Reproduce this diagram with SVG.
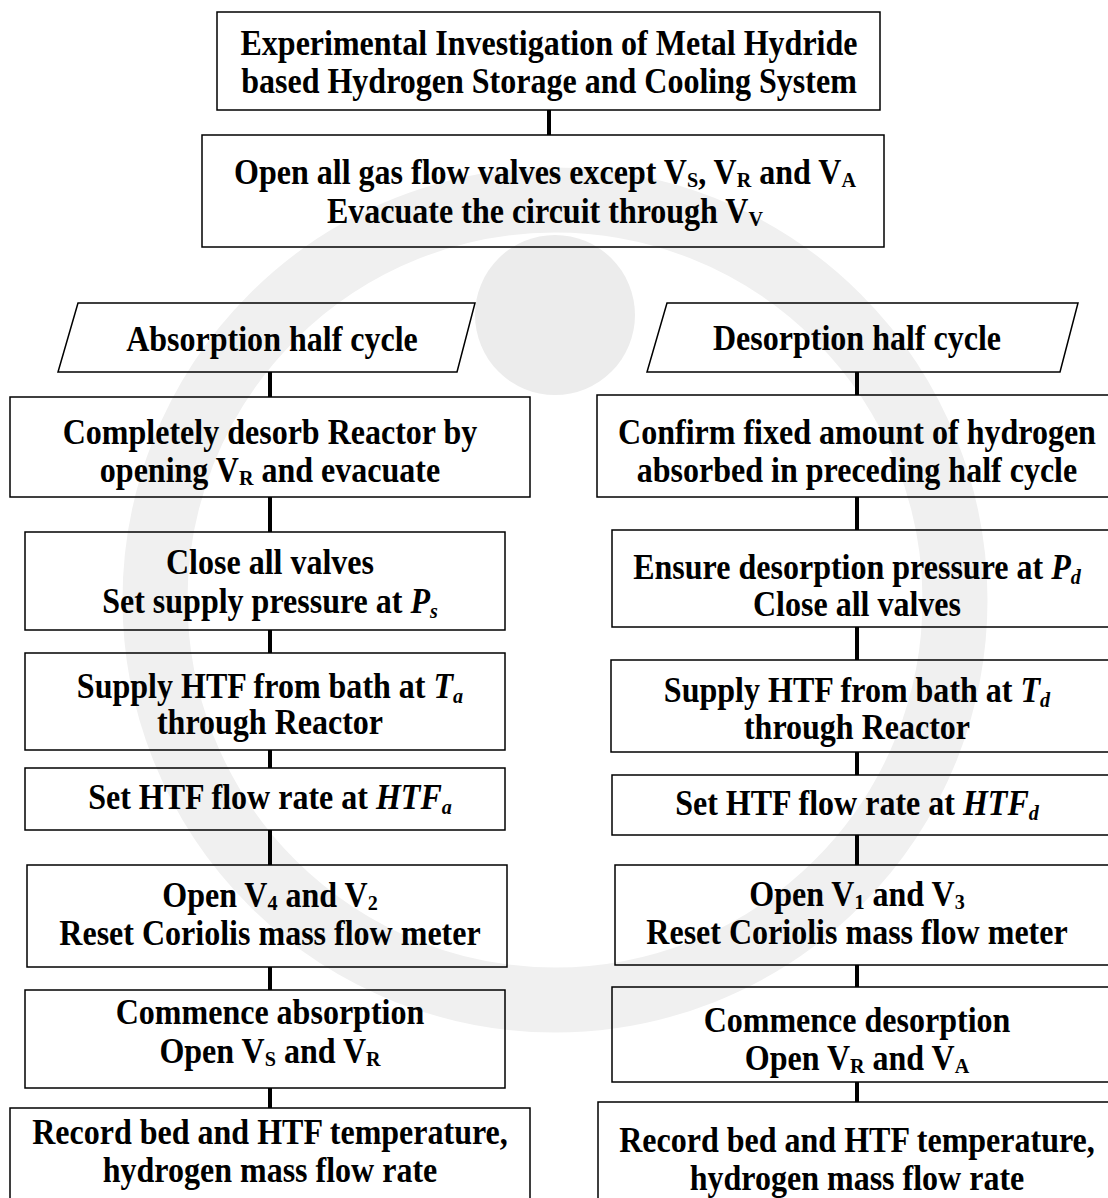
<svg xmlns="http://www.w3.org/2000/svg" width="1108" height="1198" viewBox="0 0 1108 1198">
<style>
.bx{fill:none;stroke:#000;stroke-width:1.5}
.t{font-family:"Liberation Serif","Times New Roman",serif;font-weight:bold;font-size:35px;fill:#000;text-anchor:middle}
.i{font-style:italic}
.s{font-size:22px}
.c{stroke:#000;stroke-width:4;fill:none}
.wm{fill:none;stroke:#f0f0f0}
</style>
<rect width="1108" height="1198" fill="#fff"/>
<g id="watermark">
<circle class="wm" cx="555" cy="600" r="400" stroke-width="65"/>
<circle cx="555" cy="315" r="80" fill="#ececec"/>
</g>
<g id="connectors">
<line class="c" x1="549" y1="110" x2="549" y2="135"/>
<line class="c" x1="270" y1="372" x2="270" y2="397"/>
<line class="c" x1="270" y1="497" x2="270" y2="532"/>
<line class="c" x1="270" y1="630" x2="270" y2="653"/>
<line class="c" x1="270" y1="750" x2="270" y2="768"/>
<line class="c" x1="270" y1="830" x2="270" y2="865"/>
<line class="c" x1="270" y1="967" x2="270" y2="990"/>
<line class="c" x1="270" y1="1088" x2="270" y2="1108"/>
<line class="c" x1="857" y1="372" x2="857" y2="395"/>
<line class="c" x1="857" y1="497" x2="857" y2="530"/>
<line class="c" x1="857" y1="627" x2="857" y2="660"/>
<line class="c" x1="857" y1="752" x2="857" y2="775"/>
<line class="c" x1="857" y1="835" x2="857" y2="865"/>
<line class="c" x1="857" y1="965" x2="857" y2="987"/>
<line class="c" x1="857" y1="1082" x2="857" y2="1102"/>
</g>
<g id="n-title">
<rect class="bx" x="217" y="12" width="663" height="98"/>
<text class="t" transform="translate(549 55) scale(0.915 1)">Experimental Investigation of Metal Hydride</text>
<text class="t" transform="translate(549 93) scale(0.915 1)">based Hydrogen Storage and Cooling System</text>
</g>
<g id="n-evac">
<rect class="bx" x="202" y="135" width="682" height="112"/>
<text class="t" transform="translate(545 184) scale(0.915 1)">Open all gas flow valves except V<tspan class="s" dy="3">S</tspan><tspan dy="-3">, V</tspan><tspan class="s" dy="3">R</tspan><tspan dy="-3"> and V</tspan><tspan class="s" dy="3">A</tspan></text>
<text class="t" transform="translate(545 223) scale(0.915 1)">Evacuate the circuit through V<tspan class="s" dy="3">V</tspan></text>
</g>
<g id="n-abs">
<polygon class="bx" points="78,303 475,303 457,372 58,372"/>
<text class="t" transform="translate(272 351) scale(0.915 1)">Absorption half cycle</text>
</g>
<g id="n-des">
<polygon class="bx" points="667,303 1078,303 1060,372 647,372"/>
<text class="t" transform="translate(857 350) scale(0.915 1)">Desorption half cycle</text>
</g>
<g id="n-a1">
<rect class="bx" x="10" y="397" width="520" height="100"/>
<text class="t" transform="translate(270 444) scale(0.915 1)">Completely desorb Reactor by</text>
<text class="t" transform="translate(270 482) scale(0.915 1)">opening V<tspan class="s" dy="3">R</tspan><tspan dy="-3"> and evacuate</tspan></text>
</g>
<g id="n-a2">
<rect class="bx" x="25" y="532" width="480" height="98"/>
<text class="t" transform="translate(270 574) scale(0.915 1)">Close all valves</text>
<text class="t" transform="translate(270 613) scale(0.915 1)">Set supply pressure at <tspan class="i">P</tspan><tspan class="i s" dy="5">s</tspan></text>
</g>
<g id="n-a3">
<rect class="bx" x="25" y="653" width="480" height="97"/>
<text class="t" transform="translate(270 698) scale(0.915 1)">Supply HTF from bath at <tspan class="i">T</tspan><tspan class="i s" dy="5">a</tspan></text>
<text class="t" transform="translate(270 734) scale(0.915 1)">through Reactor</text>
</g>
<g id="n-a4">
<rect class="bx" x="25" y="768" width="480" height="62"/>
<text class="t" transform="translate(270 809) scale(0.915 1)">Set HTF flow rate at <tspan class="i">HTF</tspan><tspan class="i s" dy="5">a</tspan></text>
</g>
<g id="n-a5">
<rect class="bx" x="27" y="865" width="480" height="102"/>
<text class="t" transform="translate(270 907) scale(0.915 1)">Open V<tspan class="s" dy="3">4</tspan><tspan dy="-3"> and V</tspan><tspan class="s" dy="3">2</tspan></text>
<text class="t" transform="translate(270 945) scale(0.915 1)">Reset Coriolis mass flow meter</text>
</g>
<g id="n-a6">
<rect class="bx" x="25" y="990" width="480" height="98"/>
<text class="t" transform="translate(270 1024) scale(0.915 1)">Commence absorption</text>
<text class="t" transform="translate(270 1063) scale(0.915 1)">Open V<tspan class="s" dy="3">S</tspan><tspan dy="-3"> and V</tspan><tspan class="s" dy="3">R</tspan></text>
</g>
<g id="n-a7">
<rect class="bx" x="10" y="1108" width="520" height="100"/>
<text class="t" transform="translate(270 1144) scale(0.915 1)">Record bed and HTF temperature,</text>
<text class="t" transform="translate(270 1182) scale(0.915 1)">hydrogen mass flow rate</text>
</g>
<g id="n-d1">
<rect class="bx" x="597" y="395" width="520" height="102"/>
<text class="t" transform="translate(857 444) scale(0.915 1)">Confirm fixed amount of hydrogen</text>
<text class="t" transform="translate(857 482) scale(0.915 1)">absorbed in preceding half cycle</text>
</g>
<g id="n-d2">
<rect class="bx" x="612" y="530" width="500" height="97"/>
<text class="t" transform="translate(857 579) scale(0.915 1)">Ensure desorption pressure at <tspan class="i">P</tspan><tspan class="i s" dy="5">d</tspan></text>
<text class="t" transform="translate(857 616) scale(0.915 1)">Close all valves</text>
</g>
<g id="n-d3">
<rect class="bx" x="611" y="660" width="500" height="92"/>
<text class="t" transform="translate(857 702) scale(0.915 1)">Supply HTF from bath at <tspan class="i">T</tspan><tspan class="i s" dy="5">d</tspan></text>
<text class="t" transform="translate(857 739) scale(0.915 1)">through Reactor</text>
</g>
<g id="n-d4">
<rect class="bx" x="612" y="775" width="500" height="60"/>
<text class="t" transform="translate(857 815) scale(0.915 1)">Set HTF flow rate at <tspan class="i">HTF</tspan><tspan class="i s" dy="5">d</tspan></text>
</g>
<g id="n-d5">
<rect class="bx" x="615" y="865" width="500" height="100"/>
<text class="t" transform="translate(857 906) scale(0.915 1)">Open V<tspan class="s" dy="3">1</tspan><tspan dy="-3"> and V</tspan><tspan class="s" dy="3">3</tspan></text>
<text class="t" transform="translate(857 944) scale(0.915 1)">Reset Coriolis mass flow meter</text>
</g>
<g id="n-d6">
<rect class="bx" x="612" y="987" width="500" height="95"/>
<text class="t" transform="translate(857 1032) scale(0.915 1)">Commence desorption</text>
<text class="t" transform="translate(857 1070) scale(0.915 1)">Open V<tspan class="s" dy="3">R</tspan><tspan dy="-3"> and V</tspan><tspan class="s" dy="3">A</tspan></text>
</g>
<g id="n-d7">
<rect class="bx" x="598" y="1102" width="520" height="110"/>
<text class="t" transform="translate(857 1152) scale(0.915 1)">Record bed and HTF temperature,</text>
<text class="t" transform="translate(857 1190) scale(0.915 1)">hydrogen mass flow rate</text>
</g>
</svg>
